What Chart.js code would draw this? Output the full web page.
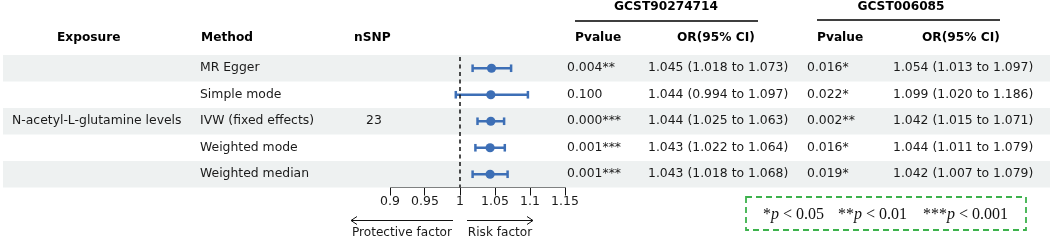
<!DOCTYPE html>
<html>
<head>
<meta charset="utf-8">
<script src="https://cdn.jsdelivr.net/npm/chart.js@4"></script>
<style>
  body { margin: 0; background: #fff; }
  #wrap { width: 1052px; height: 240px; }
</style>
</head>
<body>
<div id="wrap"><canvas id="forest" width="1052" height="240"></canvas></div>
<script>
// table data
const exposure = 'N-acetyl-L-glutamine levels';
const nSNP = '23';
const methods = ['MR Egger', 'Simple mode', 'IVW (fixed effects)', 'Weighted mode', 'Weighted median'];

// GCST90274714 (plotted)
const orA = [1.045, 1.044, 1.044, 1.043, 1.043];
const loA = [1.018, 0.994, 1.025, 1.022, 1.018];
const hiA = [1.073, 1.097, 1.063, 1.064, 1.068];
const pA = ['0.004**', '0.100', '0.000***', '0.001***', '0.001***'];

// GCST006085
const orB = [1.054, 1.099, 1.042, 1.044, 1.042];
const loB = [1.013, 1.020, 1.015, 1.011, 1.007];
const hiB = [1.097, 1.186, 1.071, 1.079, 1.079];
const pB = ['0.016*', '0.022*', '0.002**', '0.016*', '0.019*'];

const tickVals = [0.9, 0.95, 1, 1.05, 1.1, 1.15];
const tickLabels = ['0.9', '0.95', '1', '1.05', '1.1', '1.15'];

const blue = '#3d6fb6';
const sans = '"DejaVu Sans", Verdana, sans-serif';
const ci = (o, l, h) => o.toFixed(3) + ' (' + l.toFixed(3) + ' to ' + h.toFixed(3) + ')';

const tablePlugin = {
    id: 'table',
    beforeDatasetsDraw(chart) {
        const ctx = chart.ctx, y = chart.scales.y;
        ctx.save();
        ctx.fillStyle = '#eef1f1';
        for (let i = 0; i < methods.length; i += 2) {
            const a = y.getPixelForValue(i - 0.5), b = y.getPixelForValue(i + 0.5);
            ctx.fillRect(3, Math.min(a, b), 1047, Math.abs(b - a));
        }
        ctx.restore();
    },
    afterDraw(chart) {
        const ctx = chart.ctx, x = chart.scales.x, y = chart.scales.y;
        ctx.save();
        ctx.textBaseline = 'middle';

        // headers
        ctx.fillStyle = '#000';
        ctx.font = 'bold 12.2px ' + sans;
        ctx.textAlign = 'left';
        ctx.fillText('Exposure', 57, 38);
        ctx.fillText('Method', 201, 38);
        ctx.fillText('nSNP', 354, 38);
        ctx.fillText('Pvalue', 575, 38);
        ctx.fillText('OR(95% CI)', 677, 38);
        ctx.fillText('Pvalue', 817, 38);
        ctx.fillText('OR(95% CI)', 922, 38);
        ctx.textAlign = 'center';
        ctx.fillText('GCST90274714', 666, 7);
        ctx.fillText('GCST006085', 901, 7);
        ctx.strokeStyle = '#000';
        ctx.lineWidth = 1.5;
        ctx.beginPath();
        ctx.moveTo(575, 21); ctx.lineTo(758, 21);
        ctx.moveTo(817, 20); ctx.lineTo(1000, 20);
        ctx.stroke();

        // rows
        ctx.fillStyle = '#1a1a1a';
        ctx.font = '12.4px ' + sans;
        ctx.textAlign = 'left';
        ctx.fillText(exposure, 12, y.getPixelForValue(2));
        ctx.fillText(nSNP, 366, y.getPixelForValue(2));
        methods.forEach((m, i) => {
            const py = y.getPixelForValue(i);
            ctx.fillText(m, 200, py);
            ctx.fillText(pA[i], 567, py);
            ctx.fillText(ci(orA[i], loA[i], hiA[i]), 648, py);
            ctx.fillText(pB[i], 807, py);
            ctx.fillText(ci(orB[i], loB[i], hiB[i]), 893, py);
        });

        // arrows under the axis
        const x1 = x.getPixelForValue(1);
        const ay = 220.5;
        ctx.strokeStyle = '#111';
        ctx.lineWidth = 1;
        const arrow = (from, to) => {
            const d = to > from ? -1 : 1;
            ctx.beginPath();
            ctx.moveTo(from, ay); ctx.lineTo(to, ay);
            ctx.moveTo(to + d * 6, ay - 4); ctx.lineTo(to, ay); ctx.lineTo(to + d * 6, ay + 4);
            ctx.stroke();
        };
        arrow(x1 - 7, x1 - 109);
        arrow(x1 + 7, x1 + 73);
        ctx.textAlign = 'center';
        ctx.fillStyle = '#1a1a1a';
        ctx.font = '12.1px ' + sans;
        ctx.fillText('Protective factor', x1 - 58, 233);
        ctx.fillText('Risk factor', x1 + 40, 233);

        // significance legend box
        ctx.strokeStyle = '#3cb24c';
        ctx.lineWidth = 1.8;
        ctx.setLineDash([6, 4]);
        ctx.strokeRect(746, 197, 280, 33);
        ctx.setLineDash([]);
        ctx.fillStyle = '#111';
        ctx.textAlign = 'left';
        const keys = [['*', ' < 0.05', 763], ['**', ' < 0.01', 838], ['***', ' < 0.001', 923]];
        keys.forEach(k => {
            let px = k[2];
            ctx.font = '16px "Liberation Serif", serif';
            ctx.fillText(k[0], px, 215);
            px += ctx.measureText(k[0]).width;
            ctx.font = 'italic 16px "Liberation Serif", serif';
            ctx.fillText('p', px, 215);
            px += ctx.measureText('p').width;
            ctx.font = '16px "Liberation Serif", serif';
            ctx.fillText(k[1], px, 215);
        });
        ctx.restore();
    }
};

const datasets = [{
    type: 'line',
    data: [{ x: 1, y: -0.42 }, { x: 1, y: 4.5 }],
    borderColor: '#111',
    borderWidth: 1.5,
    borderDash: [4, 3.5],
    pointRadius: 0,
    clip: false
}];
methods.forEach((m, i) => {
    datasets.push({
        type: 'line',
        data: [{ x: loA[i], y: i }, { x: hiA[i], y: i }],
        borderColor: blue,
        borderWidth: 2.5,
        pointStyle: 'line',
        rotation: 90,
        pointRadius: 3.8,
        pointBorderWidth: 2.5,
        pointBorderColor: blue,
        clip: false
    });
});
datasets.push({
    type: 'scatter',
    data: orA.map((v, i) => ({ x: v, y: i })),
    pointRadius: 4.6,
    backgroundColor: blue,
    borderColor: blue,
    borderWidth: 0,
    clip: false
});

new Chart(document.getElementById('forest'), {
    type: 'scatter',
    data: { datasets: datasets },
    options: {
        responsive: false,
        animation: false,
        events: [],
        layout: { padding: { left: 390, right: 487, top: 55, bottom: 31.5 } },
        plugins: { legend: { display: false }, tooltip: { enabled: false } },
        scales: {
            x: {
                type: 'linear',
                min: 0.9,
                max: 1.15,
                afterBuildTicks: axis => { axis.ticks = tickVals.map(v => ({ value: v })); },
                ticks: {
                    autoSkip: false,
                    maxRotation: 0,
                    padding: -1,
                    color: '#1a1a1a',
                    font: { family: sans, size: 12.5 },
                    callback: (v, i) => tickLabels[i]
                },
                grid: { display: true, drawOnChartArea: false, drawTicks: true, tickLength: 8, color: '#111' },
                border: { display: true, color: '#111', width: 1 }
            },
            y: { type: 'linear', reverse: true, min: -0.5, max: 4.5, display: false }
        }
    },
    plugins: [tablePlugin]
});
</script>
</body>
</html>
